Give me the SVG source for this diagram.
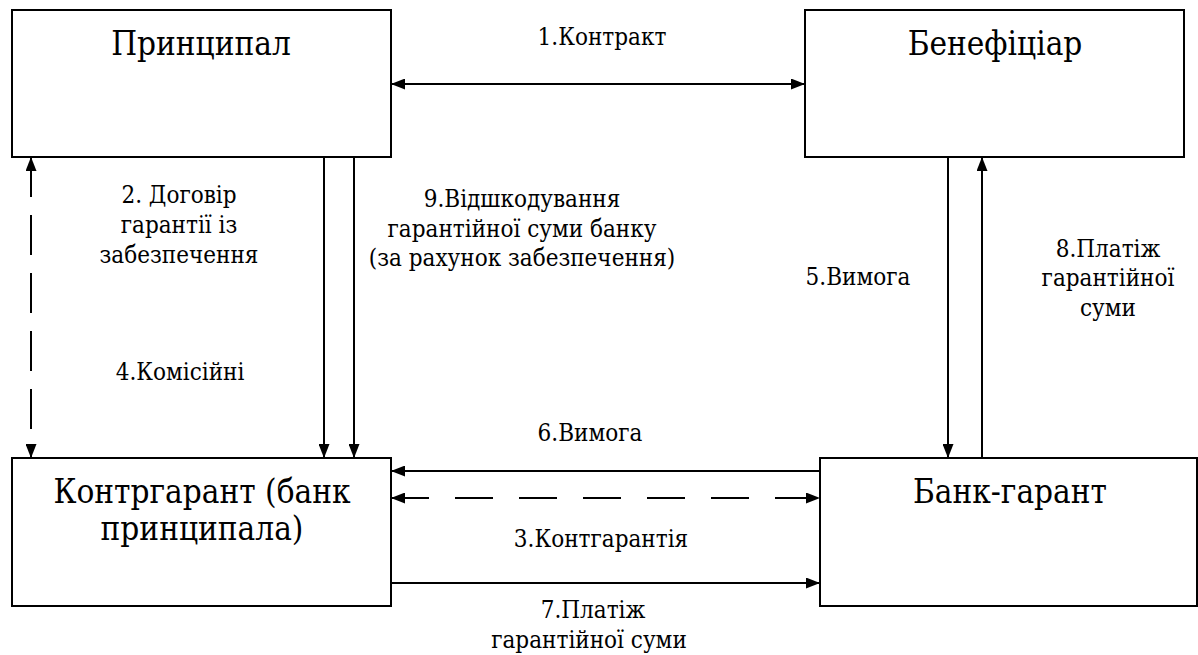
<svg xmlns="http://www.w3.org/2000/svg" width="1198" height="655" viewBox="0 0 1198 655">
<style>
.box{fill:#fff;stroke:#000;stroke-width:2}
.t{fill:#000;text-anchor:middle;font-family:'DejaVu Serif Condensed','DejaVu Serif',serif;font-stretch:condensed}
.big{font-size:33px}
.lbl{font-size:24px}
.ln{stroke:#000;stroke-width:2;fill:none}
.dash-v{stroke-dasharray:40 18}
.dash-h{stroke-dasharray:38 26}
</style>
<defs>
<marker id="ah" viewBox="0 0 14 11" refX="14" refY="5.5" markerWidth="14" markerHeight="11" markerUnits="userSpaceOnUse" orient="auto-start-reverse">
<path d="M0,0 L14,5.5 L0,11 Z" fill="#000"/>
</marker>
</defs>
<g id="principal">
<rect class="box" x="12" y="10" width="379" height="147"/>
<text class="t big" x="201" y="55">Принципал</text>
</g>
<g id="beneficiary">
<rect class="box" x="805" y="10" width="379" height="147"/>
<text class="t big" x="995" y="55">Бенефіціар</text>
</g>
<g id="kontrgarant">
<rect class="box" x="12" y="458" width="379" height="148"/>
<text class="t big" x="202" y="503">Контргарант (банк</text>
<text class="t big" x="202" y="540">принципала)</text>
</g>
<g id="bank-garant">
<rect class="box" x="820" y="458" width="377" height="148"/>
<text class="t big" x="1010" y="503">Банк-гарант</text>
</g>
<g id="connectors">
<line class="ln" x1="391" y1="84" x2="805" y2="84" marker-start="url(#ah)" marker-end="url(#ah)"/>
<line class="ln dash-v" x1="31" y1="157" x2="31" y2="458" marker-start="url(#ah)" marker-end="url(#ah)"/>
<line class="ln" x1="324" y1="157" x2="324" y2="458" marker-end="url(#ah)"/>
<line class="ln" x1="354" y1="157" x2="354" y2="458" marker-end="url(#ah)"/>
<line class="ln" x1="948" y1="157" x2="948" y2="458" marker-end="url(#ah)"/>
<line class="ln" x1="982" y1="458" x2="982" y2="157" marker-end="url(#ah)"/>
<line class="ln" x1="820" y1="471" x2="391" y2="471" marker-end="url(#ah)"/>
<line class="ln dash-h" x1="391" y1="498" x2="820" y2="498" marker-start="url(#ah)" marker-end="url(#ah)"/>
<line class="ln" x1="391" y1="583" x2="820" y2="583" marker-end="url(#ah)"/>
</g>
<g id="labels">
<text class="t lbl" x="602" y="45">1.Контракт</text>
<text class="t lbl" x="179" y="203">2. Договір</text>
<text class="t lbl" x="179" y="233">гарантії із</text>
<text class="t lbl" x="179" y="263">забезпечення</text>
<text class="t lbl" x="180" y="380">4.Комісійні</text>
<text class="t lbl" x="522" y="207">9.Відшкодування</text>
<text class="t lbl" x="522" y="237">гарантійної суми банку</text>
<text class="t lbl" x="522" y="266">(за рахунок забезпечення)</text>
<text class="t lbl" x="858" y="285">5.Вимога</text>
<text class="t lbl" x="1108" y="257">8.Платіж</text>
<text class="t lbl" x="1108" y="286">гарантійної</text>
<text class="t lbl" x="1108" y="316">суми</text>
<text class="t lbl" x="590" y="441">6.Вимога</text>
<text class="t lbl" x="601" y="547">3.Контгарантія</text>
<text class="t lbl" x="593" y="618">7.Платіж</text>
<text class="t lbl" x="589" y="648">гарантійної суми</text>
</g>
</svg>
